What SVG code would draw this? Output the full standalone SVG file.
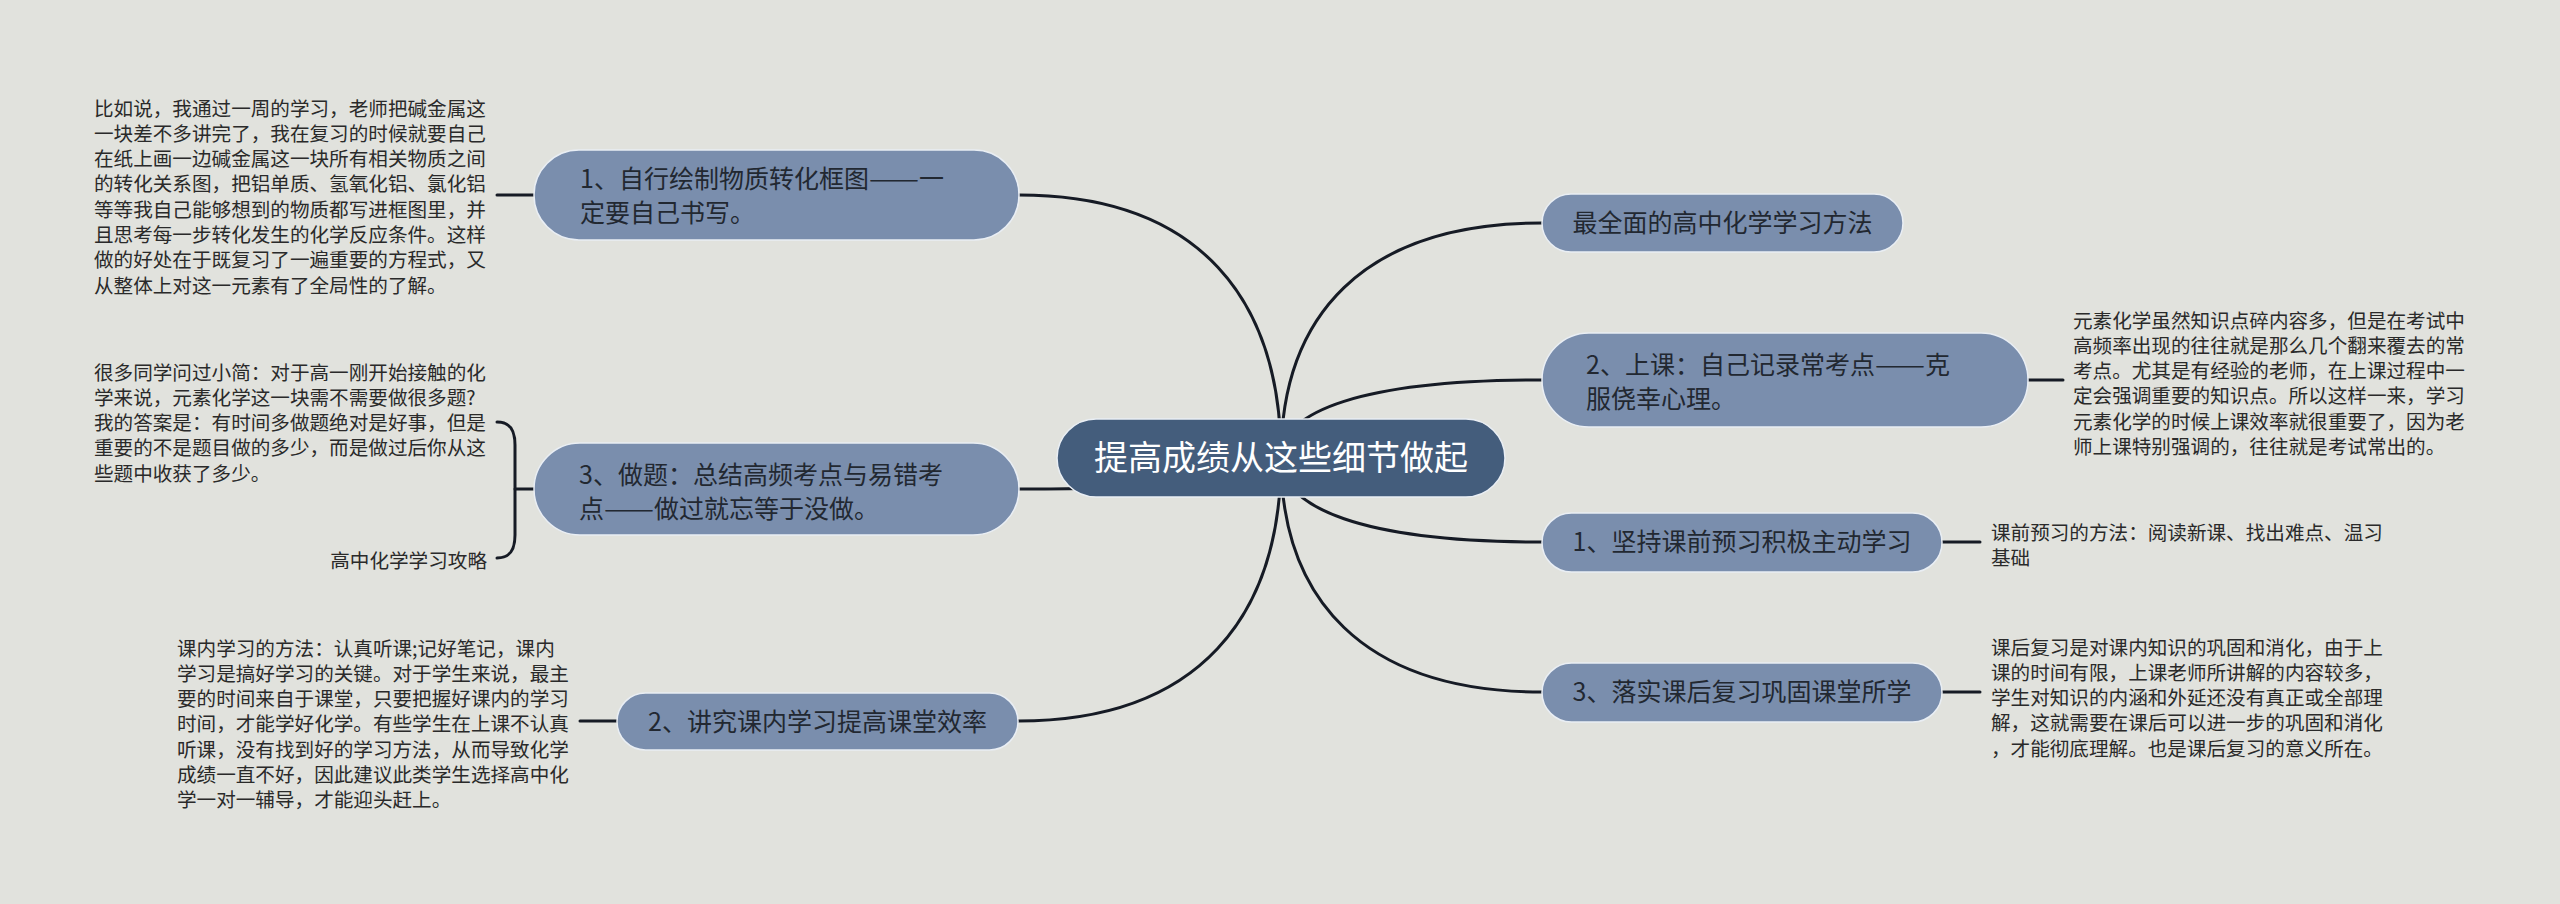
<svg xmlns="http://www.w3.org/2000/svg" width="2560" height="904" viewBox="0 0 2560 904">
<style>
text{font-family:"Noto Sans CJK SC","Liberation Sans",sans-serif;}
.main{fill:#7a8ead;stroke:#e9eef4;stroke-width:1.5;}
.root{fill:#445d7c;stroke:#e9eef4;stroke-width:1.5;}
.mt{font-size:25px;fill:#222831;}
.rt{font-size:34px;fill:#ffffff;}
.lt{font-size:19.6px;fill:#2a2a2a;}
.conn{fill:none;stroke:#161b25;stroke-width:3;stroke-linecap:round;}
</style>
<rect x="0" y="0" width="2560" height="904" fill="#e1e2dd"/>
<g id="connectors">
<path class="conn" d="M1281,458 C1281,300 1200,195 1019,195"/>
<path class="conn" d="M1281,458 C1281,477 1200,489 1019,489"/>
<path class="conn" d="M1281,458 C1281,616 1199,721 1018,721"/>
<path class="conn" d="M1281,458 C1281,317 1362,223 1542,223"/>
<path class="conn" d="M1281,458 C1281,411 1362,380 1542,380"/>
<path class="conn" d="M1281,458 C1281,508 1362,542 1542,542"/>
<path class="conn" d="M1281,458 C1281,598 1362,692 1542,692"/>
<path class="conn" d="M497,195 L534,195"/>
<path class="conn" d="M497,422 C510,422 515,430 515,445 L515,535 C515,550 510,558 497,558"/>
<path class="conn" d="M515,489 L534,489"/>
<path class="conn" d="M580,721 L617,721"/>
<path class="conn" d="M2028,380 L2063,380"/>
<path class="conn" d="M1942,542 L1980,542"/>
<path class="conn" d="M1942,692 L1980,692"/>
</g>
<g id="root">
<rect class="root" x="1057" y="419" width="448" height="78" rx="39"/>
<text class="rt" x="1281" y="470" text-anchor="middle">提高成绩从这些细节做起</text>
</g>
<g id="n-l1">
<rect class="main" x="534" y="150" width="485" height="90" rx="45"/>
<text class="mt" x="580" y="188">1、自行绘制物质转化框图<tspan textLength="50" lengthAdjust="spacingAndGlyphs">——</tspan>一</text>
<text class="mt" x="580" y="222">定要自己书写。</text>
</g>
<g id="n-l3">
<rect class="main" x="534" y="443" width="485" height="92" rx="46"/>
<text class="mt" x="579" y="484">3、做题：总结高频考点与易错考</text>
<text class="mt" x="579" y="518">点<tspan textLength="50" lengthAdjust="spacingAndGlyphs">——</tspan>做过就忘等于没做。</text>
</g>
<g id="n-l2">
<rect class="main" x="617" y="693" width="401" height="57" rx="28.5"/>
<text class="mt" x="817.5" y="731" text-anchor="middle">2、讲究课内学习提高课堂效率</text>
</g>
<g id="n-r0">
<rect class="main" x="1542" y="194" width="361" height="58" rx="29"/>
<text class="mt" x="1722.5" y="232" text-anchor="middle">最全面的高中化学学习方法</text>
</g>
<g id="n-r2">
<rect class="main" x="1542" y="333" width="486" height="94" rx="47"/>
<text class="mt" x="1586" y="374">2、上课：自己记录常考点<tspan textLength="50" lengthAdjust="spacingAndGlyphs">——</tspan>克</text>
<text class="mt" x="1586" y="408">服侥幸心理。</text>
</g>
<g id="n-r1">
<rect class="main" x="1542" y="513" width="400" height="59" rx="29.5"/>
<text class="mt" x="1742" y="551" text-anchor="middle">1、坚持课前预习积极主动学习</text>
</g>
<g id="n-r3">
<rect class="main" x="1542" y="663" width="400" height="59" rx="29.5"/>
<text class="mt" x="1742" y="701" text-anchor="middle">3、落实课后复习巩固课堂所学</text>
</g>
<g id="leaf-l1">
<text class="lt" x="94" y="115.5">比如说，我通过一周的学习，老师把碱金属这</text>
<text class="lt" x="94" y="140.8">一块差不多讲完了，我在复习的时候就要自己</text>
<text class="lt" x="94" y="166.1">在纸上画一边碱金属这一块所有相关物质之间</text>
<text class="lt" x="94" y="191.4">的转化关系图，把铝单质、氢氧化铝、氯化铝</text>
<text class="lt" x="94" y="216.7">等等我自己能够想到的物质都写进框图里，并</text>
<text class="lt" x="94" y="242">且思考每一步转化发生的化学反应条件。这样</text>
<text class="lt" x="94" y="267.3">做的好处在于既复习了一遍重要的方程式，又</text>
<text class="lt" x="94" y="292.6">从整体上对这一元素有了全局性的了解。</text>
</g>
<g id="leaf-l3a">
<text class="lt" x="94" y="379.5">很多同学问过小简：对于高一刚开始接触的化</text>
<text class="lt" x="94" y="404.8">学来说，元素化学这一块需不需要做很多题?</text>
<text class="lt" x="94" y="430.1">我的答案是：有时间多做题绝对是好事，但是</text>
<text class="lt" x="94" y="455.4">重要的不是题目做的多少，而是做过后你从这</text>
<text class="lt" x="94" y="480.7">些题中收获了多少。</text>
</g>
<g id="leaf-l3b">
<text class="lt" x="487" y="567.5" text-anchor="end">高中化学学习攻略</text>
</g>
<g id="leaf-l2">
<text class="lt" x="177" y="655.5">课内学习的方法：认真听课;记好笔记，课内</text>
<text class="lt" x="177" y="680.8">学习是搞好学习的关键。对于学生来说，最主</text>
<text class="lt" x="177" y="706.1">要的时间来自于课堂，只要把握好课内的学习</text>
<text class="lt" x="177" y="731.4">时间，才能学好化学。有些学生在上课不认真</text>
<text class="lt" x="177" y="756.7">听课，没有找到好的学习方法，从而导致化学</text>
<text class="lt" x="177" y="782">成绩一直不好，因此建议此类学生选择高中化</text>
<text class="lt" x="177" y="807.3">学一对一辅导，才能迎头赶上。</text>
</g>
<g id="leaf-r2">
<text class="lt" x="2073" y="327.5">元素化学虽然知识点碎内容多，但是在考试中</text>
<text class="lt" x="2073" y="352.8">高频率出现的往往就是那么几个翻来覆去的常</text>
<text class="lt" x="2073" y="378.1">考点。尤其是有经验的老师，在上课过程中一</text>
<text class="lt" x="2073" y="403.4">定会强调重要的知识点。所以这样一来，学习</text>
<text class="lt" x="2073" y="428.7">元素化学的时候上课效率就很重要了，因为老</text>
<text class="lt" x="2073" y="454">师上课特别强调的，往往就是考试常出的。</text>
</g>
<g id="leaf-r1">
<text class="lt" x="1991" y="539.5">课前预习的方法：阅读新课、找出难点、温习</text>
<text class="lt" x="1991" y="564.8">基础</text>
</g>
<g id="leaf-r3">
<text class="lt" x="1991" y="654.5">课后复习是对课内知识的巩固和消化，由于上</text>
<text class="lt" x="1991" y="679.8">课的时间有限，上课老师所讲解的内容较多，</text>
<text class="lt" x="1991" y="705.1">学生对知识的内涵和外延还没有真正或全部理</text>
<text class="lt" x="1991" y="730.4">解，这就需要在课后可以进一步的巩固和消化</text>
<text class="lt" x="1991" y="755.7">，才能彻底理解。也是课后复习的意义所在。</text>
</g>
</svg>
